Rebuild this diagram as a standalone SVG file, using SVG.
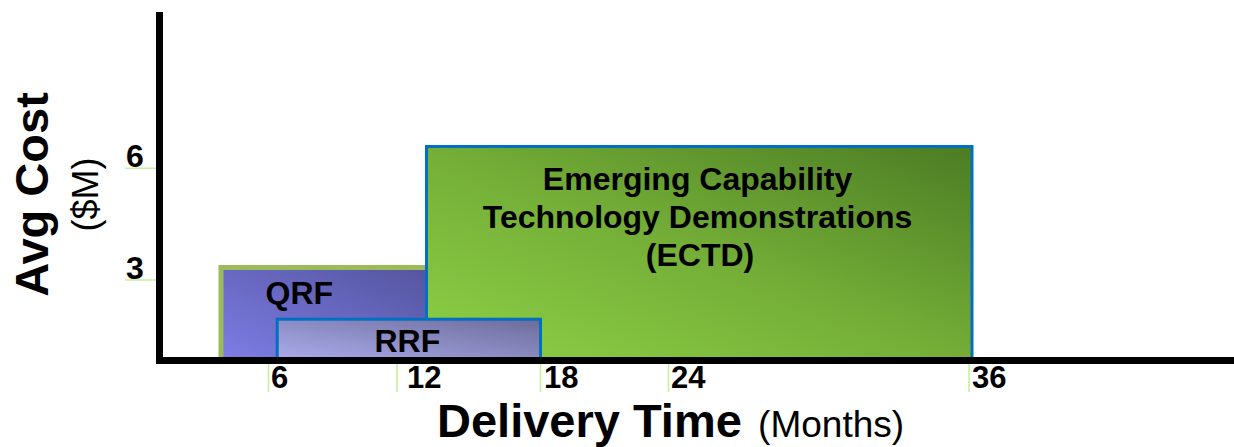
<svg xmlns="http://www.w3.org/2000/svg" width="1234" height="447" viewBox="0 0 1234 447">
  <defs>
    <linearGradient id="gQrf" x1="0" y1="1" x2="1" y2="0">
      <stop offset="0" stop-color="#7D7DE6"/>
      <stop offset="1" stop-color="#54549E"/>
    </linearGradient>
    <linearGradient id="gRrf" x1="0" y1="1" x2="1" y2="0">
      <stop offset="0" stop-color="#ACACEE"/>
      <stop offset="1" stop-color="#6C6C9A"/>
    </linearGradient>
    <linearGradient id="gEctd" x1="0" y1="1" x2="1" y2="0">
      <stop offset="0" stop-color="#8ED146"/>
      <stop offset="0.5" stop-color="#74AE37"/>
      <stop offset="1" stop-color="#4C7C24"/>
    </linearGradient>
    <style>
      .lbl { font-family: "Liberation Sans", Arial, sans-serif; font-weight: bold; fill: #000; }
      .num { font-family: "Liberation Sans", Arial, sans-serif; font-weight: bold; font-size: 32px; fill: #000; }
      .xn { font-size: 31px; }
      .tick { stroke: #C6F0A0; stroke-width: 1.6; fill: none; }
      .axis { stroke: #000; stroke-width: 7; fill: none; }
      .blue { stroke: #0070C0; stroke-width: 3; }
    </style>
  </defs>

  <!-- bars -->
  <g id="qrf">
    <rect x="221" y="267.5" width="212" height="94" fill="url(#gQrf)" stroke="#9BBB59" stroke-width="5"/>
    <text class="lbl" x="265.5" y="304" font-size="32">QRF</text>
  </g>
  <g id="ectd">
    <rect x="426.5" y="146.5" width="545.5" height="215" fill="url(#gEctd)" class="blue"/>
    <text class="lbl" font-size="32" text-anchor="middle" fill="#111">
      <tspan x="702" y="190">Emerging Capability</tspan>
      <tspan x="702" y="228">Technology Demonstrations</tspan>
      <tspan x="700" y="266">(ECTD)</tspan>
    </text>
  </g>
  <g id="rrf">
    <rect x="277.2" y="319.2" width="263.3" height="42" fill="url(#gRrf)" class="blue"/>
    <text class="lbl" x="374.5" y="352" font-size="32">RRF</text>
  </g>

  <!-- tick marks -->
  <g id="ticks">
    <path class="tick" d="M125 168.3H156 M125 280H156"/>
    <path class="tick" d="M268.5 364V392 M397 364V392 M540.5 364V392 M668.5 364V392 M969 364V392"/>
  </g>

  <!-- axes -->
  <g id="axes">
    <path class="axis" d="M159.5 12V364"/>
    <path class="axis" d="M156 360.5H1234"/>
  </g>

  <!-- axis numbers -->
  <g id="y-numbers">
    <text class="num" x="126" y="167">6</text>
    <text class="num" x="126" y="279">3</text>
  </g>
  <g id="x-numbers">
    <text class="num xn" x="271" y="387.5">6</text>
    <text class="num xn" x="407" y="387.5">12</text>
    <text class="num xn" x="544" y="387.5">18</text>
    <text class="num xn" x="671" y="387.5">24</text>
    <text class="num xn" x="972" y="387.5">36</text>
  </g>

  <!-- axis titles -->
  <g id="y-title">
    <text class="lbl" font-size="47" text-anchor="middle" transform="translate(48 194.5) rotate(-90)">Avg Cost</text>
    <text font-family="Liberation Sans, Arial, sans-serif" font-size="36" text-anchor="middle" fill="#000" transform="translate(98 194.5) rotate(-90)">($M)</text>
  </g>
  <g id="x-title">
    <text x="437" y="436.5" fill="#000" font-family="Liberation Sans, Arial, sans-serif"><tspan font-weight="bold" font-size="47">Delivery Time</tspan><tspan dx="6" font-size="37"> (Months)</tspan></text>
  </g>
</svg>
